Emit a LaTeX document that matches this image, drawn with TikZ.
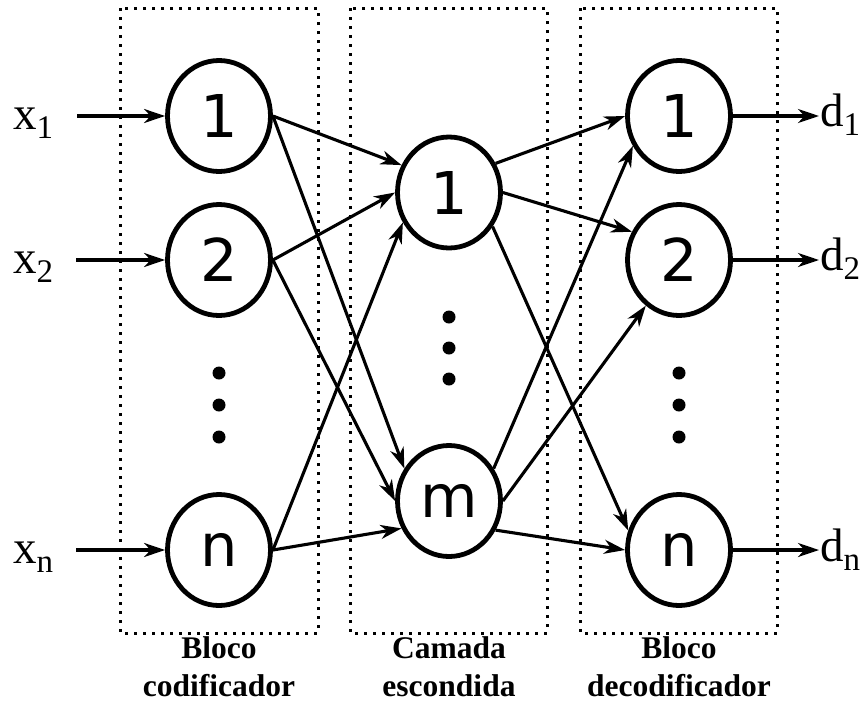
\documentclass[tikz,border=0pt]{standalone}
\usepackage{fontspec}
\setmainfont{Liberation Serif}
\newfontfamily\unitfont{DejaVu Sans}
\usetikzlibrary{shapes.geometric,arrows.meta}

\begin{document}
\begin{tikzpicture}[x=1pt,y=-1pt,
  unit/.style={ellipse,draw,line width=4.8pt,minimum width=103pt,minimum height=111pt,
    inner sep=0pt,font=\unitfont\fontsize{59}{59}\selectfont},
  link/.style={line width=3.1pt,-{Stealth[length=21pt,width=14pt,inset=6.5pt]}},
  blockframe/.style={line width=3pt,dash pattern=on 3pt off 6pt},
  vdot/.style={fill=black,circle,inner sep=0pt,minimum size=13pt},
  caption/.style={font=\bfseries\fontsize{31.5}{38}\selectfont,align=center,anchor=north,inner sep=0pt},
  sig/.style={font=\fontsize{47}{47}\selectfont,anchor=base west,inner sep=0pt}]

\useasboundingbox (0,0) rectangle (861,702);

% dotted frames of the three blocks
\draw[blockframe] (120,8) rectangle (318,633);
\draw[blockframe] (350,8) rectangle (547,633);
\draw[blockframe] (580,8) rectangle (777,633);

% encoder block
\node[unit] (L1) at (219,116) {1};
\node[unit] (L2) at (219,260) {2};
\node[unit] (Ln) at (219,550) {n};
\node[vdot] (Ld1) at (219,373) {};
\node[vdot] (Ld2) at (219,405) {};
\node[vdot] (Ld3) at (219,437) {};

% hidden layer
\node[unit] (M1) at (449,192.5) {1};
\node[unit] (Mm) at (449,501) {m};
\node[vdot] (Md1) at (449,317) {};
\node[vdot] (Md2) at (449,348) {};
\node[vdot] (Md3) at (449,379) {};

% decoder block
\node[unit] (R1) at (679,116) {1};
\node[unit] (R2) at (679,260) {2};
\node[unit] (Rn) at (679,550) {n};
\node[vdot] (Rd1) at (679,373) {};
\node[vdot] (Rd2) at (679,405) {};
\node[vdot] (Rd3) at (679,437) {};

% inputs
\node[sig] (x1) at (13,129) {x\raisebox{-9pt}{\fontsize{33}{33}\selectfont 1}};
\node[sig] (x2) at (13,273) {x\raisebox{-9pt}{\fontsize{33}{33}\selectfont 2}};
\node[sig] (xn) at (13,563) {x\raisebox{-9pt}{\fontsize{33}{33}\selectfont n}};
\coordinate (x1s) at (77,116);
\coordinate (x2s) at (76,260);
\coordinate (xns) at (76,550);
\draw[link] (x1s) -- (L1);
\draw[link] (x2s) -- (L2);
\draw[link] (xns) -- (Ln);

% outputs
\node[sig] (d1) at (820,126) {d\raisebox{-9pt}{\fontsize{33}{33}\selectfont 1}};
\node[sig] (d2) at (820,270) {d\raisebox{-9pt}{\fontsize{33}{33}\selectfont 2}};
\node[sig] (dn) at (820,561) {d\raisebox{-9pt}{\fontsize{33}{33}\selectfont n}};
\coordinate (d1e) at (819,116);
\coordinate (d2e) at (819,260);
\coordinate (dne) at (819,550);
\draw[link] (R1) -- (d1e);
\draw[link] (R2) -- (d2e);
\draw[link] (Rn) -- (dne);

% encoder to hidden layer
\draw[link] (L1.east) -- (M1.150);
\draw[link] (L1.east) -- (Mm.144);
\draw[link] (L2.east) -- (M1.west);
\draw[link] (L2.east) -- (Mm.west);
\draw[link] (Ln.east) -- (M1.213);
\draw[link] (Ln.east) -- (Mm.210);

% hidden layer to decoder
\draw[link] (M1.32) -- (R1.west);
\draw[link] (M1.east) -- (R2.149);
\draw[link] (M1.-38) -- (Rn.159);
\draw[link] (Mm.36) -- (R1.213);
\draw[link] (Mm.east) -- (R2.234);
\draw[link] (Mm.-32) -- (Rn.west);

% block captions
\node[caption] (c1) at (219,636) {Bloco\\codificador};
\node[caption] (c2) at (449,636) {Camada\\escondida};
\node[caption] (c3) at (679,636) {Bloco\\decodificador};
\end{tikzpicture}
\end{document}
